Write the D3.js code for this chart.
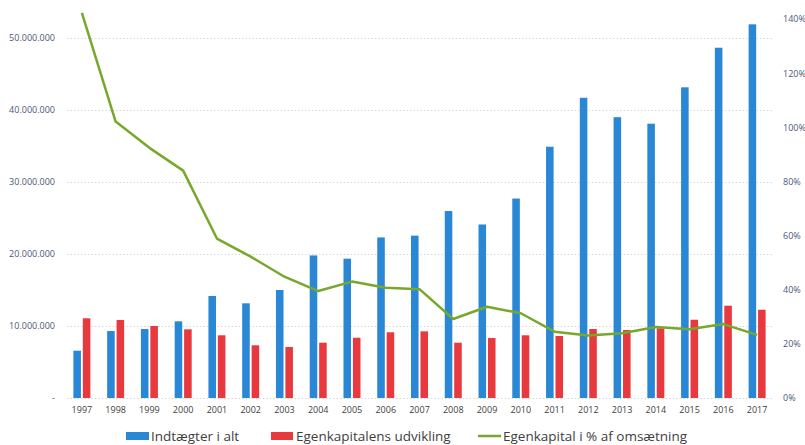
<!DOCTYPE html>
<html>
<head>
<meta charset="utf-8">
<script src="https://cdn.jsdelivr.net/npm/d3@7"></script>
<style>
  body { margin: 0; background: #fff; }
  svg { display: block; }
</style>
</head>
<body>
<div id="chart"></div>
<script>
const w = 805;
const h = 445;

const years = ['1997', '1998', '1999', '2000', '2001', '2002', '2003', '2004', '2005', '2006', '2007',
               '2008', '2009', '2010', '2011', '2012', '2013', '2014', '2015', '2016', '2017'];

// Indtægter i alt (kr.)
const indtaegter = [6570000, 9300000, 9580000, 10650000, 14170000, 13150000, 15000000, 19800000,
                    19350000, 22300000, 22550000, 25970000, 24100000, 27700000, 34900000, 41700000,
                    39000000, 38100000, 43150000, 48650000, 51900000];

// Egenkapitalens udvikling (kr.)
const egenkapital = [11070000, 10830000, 10000000, 9540000, 8710000, 7320000, 7080000, 7680000,
                     8370000, 9130000, 9260000, 7680000, 8330000, 8710000, 8610000, 9580000,
                     9440000, 9680000, 10870000, 12820000, 12260000];

// Egenkapital i % af omsætning
const procent = [142.3, 102.1, 92.4, 84.0, 58.9, 52.2, 44.8, 39.5, 43.0, 40.7, 40.2,
                 29.2, 33.7, 31.3, 24.5, 23.1, 23.9, 26.2, 25.4, 27.3, 23.3];

const leftTicks = [0, 10000000, 20000000, 30000000, 40000000, 50000000];
const rightTicks = [0, 20, 40, 60, 80, 100, 120, 140];
const seriesNames = ['Indtægter i alt', 'Egenkapitalens udvikling', 'Egenkapital i % af omsætning'];

const blue = '#2a87d6';
const red = '#e8393e';
const green = '#77a82c';

const svg = d3.select('#chart')
  .append('svg')
  .attr('width', w)
  .attr('height', h);

let xScale = d3.scaleBand()
  .domain(years)
  .range([65, 774]);

let subScale = d3.scaleBand()
  .domain(['a', 'b'])
  .range([xScale.bandwidth() / 2 - 8.5, xScale.bandwidth() / 2 + 8.5])
  .paddingInner(0.2);

let yScale = d3.scaleLinear()
  .domain([0, 50000000])
  .range([398, 38]);

let pScale = d3.scaleLinear()
  .domain([0, 140])
  .range([398, 19]);

let fmt = function(d) {
  if (d === 0) return '-';
  return d3.format(',')(d).replace(/,/g, '.');
};

// gridlines
svg.append('g')
  .selectAll('line')
  .data(leftTicks)
  .enter()
  .append('line')
  .attr('x1', 67)
  .attr('x2', 773)
  .attr('y1', function(d) { return yScale(d) + 0.5; })
  .attr('y2', function(d) { return yScale(d) + 0.5; })
  .attr('stroke', '#d6d6d6')
  .attr('stroke-width', 1)
  .attr('stroke-dasharray', '1.5,2');

// left axis
let yAxis = d3.axisLeft()
  .scale(yScale)
  .tickValues(leftTicks)
  .tickFormat(fmt)
  .tickSize(0)
  .tickPadding(0);

let gy = svg.append('g')
  .attr('transform', 'translate(55,0)')
  .call(yAxis);
gy.select('.domain').remove();
gy.selectAll('text')
  .attr('font-family', 'Open Sans')
  .attr('font-size', '9px')
  .attr('fill', '#4a5878');

// right axis
let pAxis = d3.axisRight()
  .scale(pScale)
  .tickValues(rightTicks)
  .tickFormat(function(d) { return d + '%'; })
  .tickSize(0)
  .tickPadding(0);

let gp = svg.append('g')
  .attr('transform', 'translate(783,0)')
  .call(pAxis);
gp.select('.domain').remove();
gp.selectAll('text')
  .attr('font-family', 'Open Sans')
  .attr('font-size', '9px')
  .attr('fill', '#4a5878');

// bottom axis
let xAxis = d3.axisBottom()
  .scale(xScale)
  .tickSize(0)
  .tickPadding(9);

let gx = svg.append('g')
  .attr('transform', 'translate(0,398)')
  .call(xAxis);
gx.select('.domain').remove();
gx.selectAll('text')
  .attr('font-family', 'Open Sans')
  .attr('font-size', '9px')
  .attr('fill', '#404040');

// bars
svg.append('g')
  .selectAll('rect')
  .data(indtaegter)
  .enter()
  .append('rect')
  .attr('x', function(d, i) { return xScale(years[i]) + subScale('a'); })
  .attr('y', function(d) { return yScale(d); })
  .attr('width', subScale.bandwidth())
  .attr('height', function(d) { return yScale(0) - yScale(d); })
  .attr('fill', blue);

svg.append('g')
  .selectAll('rect')
  .data(egenkapital)
  .enter()
  .append('rect')
  .attr('x', function(d, i) { return xScale(years[i]) + subScale('b'); })
  .attr('y', function(d) { return yScale(d); })
  .attr('width', subScale.bandwidth())
  .attr('height', function(d) { return yScale(0) - yScale(d); })
  .attr('fill', red);

// line
let line = d3.line()
  .x(function(d, i) { return xScale(years[i]) + xScale.bandwidth() / 2; })
  .y(function(d) { return pScale(d); });

svg.append('path')
  .datum(procent)
  .attr('d', line)
  .attr('fill', 'none')
  .attr('stroke', green)
  .attr('stroke-width', 2.5)
  .attr('stroke-linejoin', 'round');

// legend
const legendX = [126, 271, 478];
let legend = svg.append('g')
  .attr('font-family', 'Open Sans')
  .attr('font-size', '13.5px')
  .attr('fill', '#404040');

legend.append('rect')
  .attr('x', legendX[0]).attr('y', 432)
  .attr('width', 23).attr('height', 8)
  .attr('fill', blue);
legend.append('rect')
  .attr('x', legendX[1]).attr('y', 432)
  .attr('width', 22).attr('height', 8)
  .attr('fill', red);
legend.append('line')
  .attr('x1', legendX[2]).attr('x2', legendX[2] + 23)
  .attr('y1', 436).attr('y2', 436)
  .attr('stroke', green)
  .attr('stroke-width', 2.5);

legend.selectAll('text')
  .data(seriesNames)
  .enter()
  .append('text')
  .attr('x', function(d, i) { return legendX[i] + 25; })
  .attr('y', 441)
  .text(function(d) { return d; });
</script>
</body>
</html>
